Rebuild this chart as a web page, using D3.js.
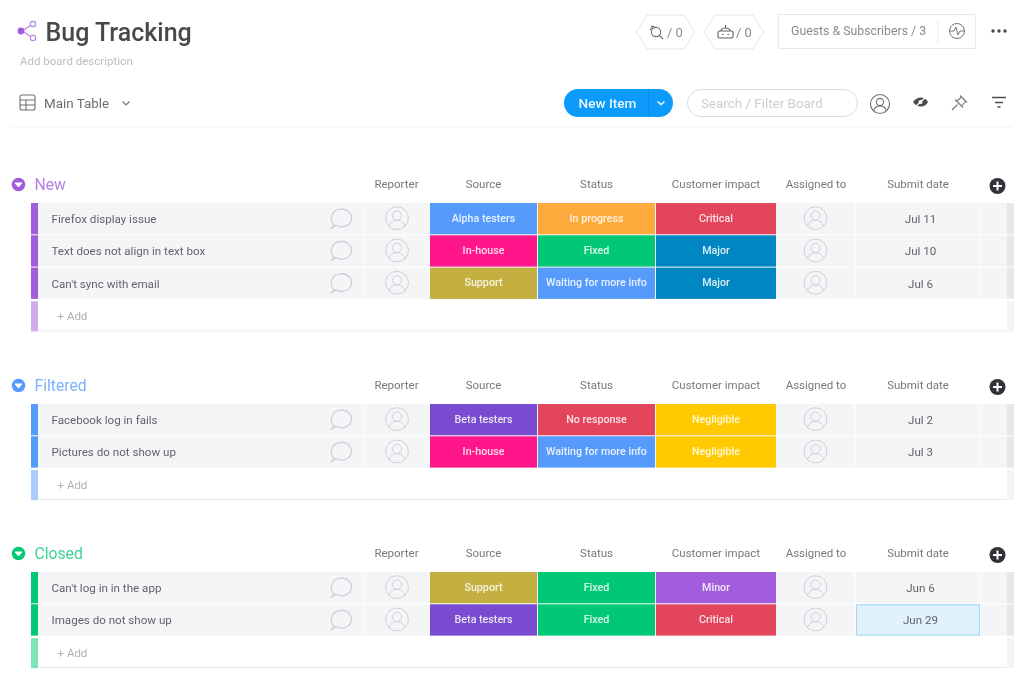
<!DOCTYPE html>
<html>
<head>
<meta charset="utf-8">
<title>Bug Tracking</title>
<script src="https://cdn.jsdelivr.net/npm/d3@7"></script>
<style>
  html, body { margin: 0; padding: 0; background: #fff; overflow: hidden; }
  svg { display: block; }
  text { font-family: Roboto, "Open Sans", sans-serif; }
</style>
</head>
<body>
<div class="viz"></div>
<script>
/* board data */
var columns = ['Reporter', 'Source', 'Status', 'Customer impact', 'Assigned to', 'Submit date'];

var groupNames = ['New', 'Filtered', 'Closed'];

var newItems = ['Firefox display issue', 'Text does not align in text box', "Can't sync with email"];
var newSource = ['Alpha testers', 'In-house', 'Support'];
var newStatus = ['In progress', 'Fixed', 'Waiting for more info'];
var newImpact = ['Critical', 'Major', 'Major'];
var newDates = ['Jul 11', 'Jul 10', 'Jul 6'];

var filteredItems = ['Facebook log in fails', 'Pictures do not show up'];
var filteredSource = ['Beta testers', 'In-house'];
var filteredStatus = ['No response', 'Waiting for more info'];
var filteredImpact = ['Negligible', 'Negligible'];
var filteredDates = ['Jul 2', 'Jul 3'];

var closedItems = ["Can't log in in the app", 'Images do not show up'];
var closedSource = ['Support', 'Beta testers'];
var closedStatus = ['Fixed', 'Fixed'];
var closedImpact = ['Minor', 'Critical'];
var closedDates = ['Jun 6', 'Jun 29'];

var labelNames = ['Alpha testers', 'In-house', 'Support', 'Beta testers', 'In progress', 'Fixed',
  'Waiting for more info', 'No response', 'Critical', 'Major', 'Negligible', 'Minor'];
var labelColors = ['#579bfc', '#ff158a', '#c4b03f', '#784bd1', '#fdab3d', '#00c875',
  '#579bfc', '#e2445c', '#e2445c', '#0086c0', '#ffcb00', '#a25ddc'];

var groups = [
  {name: 'New', items: newItems, source: newSource, status: newStatus, impact: newImpact, dates: newDates},
  {name: 'Filtered', items: filteredItems, source: filteredSource, status: filteredStatus, impact: filteredImpact, dates: filteredDates},
  {name: 'Closed', items: closedItems, source: closedSource, status: closedStatus, impact: closedImpact, dates: closedDates}
];

var width = 1024, height = 688;

var svg = d3.select('.viz').append('svg')
  .attr('width', width)
  .attr('height', height);

var defs = svg.append('defs');
defs.append('filter').attr('id', 'soft')
  .attr('x', '-5%').attr('y', '-5%').attr('width', '110%').attr('height', '110%')
  .append('feGaussianBlur').attr('stdDeviation', 0.45);

var root = svg.append('g').attr('filter', 'url(#soft)');

/* scales */
var groupColor = d3.scaleOrdinal().domain(groupNames).range(['#a25ddc', '#579bfc', '#00c875']);
var groupTop = d3.scaleOrdinal().domain(groupNames).range([203, 404, 572]);
var labelColor = d3.scaleOrdinal().domain(labelNames.map(function(d, i){ return i; })).range(labelColors);

var colLeft = d3.scaleOrdinal().domain(columns).range([365, 430, 538, 656, 778, 856]);
var colRight = d3.scaleOrdinal().domain(columns).range([428, 537, 655, 776, 854, 980]);
var rowHeight = 32.3;

function colorFor(name, field) {
  var start = field === 'source' ? 0 : field === 'status' ? 4 : 8;
  return labelColor(labelNames.indexOf(name, start));
}
function colMid(c) { return (colLeft(c) + colRight(c)) / 2; }

/* icons */
function personIcon(g, x, y) {
  var p = g.append('g').attr('transform', 'translate(' + x + ',' + y + ')')
    .attr('fill', 'none').attr('stroke', '#cfd1d6').attr('stroke-width', 1);
  p.append('circle').attr('r', 11.4);
  p.append('circle').attr('cy', -2.5).attr('r', 4.6);
  p.append('path').attr('d', 'M-8,8.2 C-6.5,3 -3,2.2 0,2.2 C3,2.2 6.5,3 8,8.2');
}

function commentIcon(g, x, y) {
  g.append('path')
    .attr('transform', 'translate(' + x + ',' + y + ') scale(1,1.15)')
    .attr('fill', 'none').attr('stroke', '#cbced3').attr('stroke-width', 1.1)
    .attr('d', 'M-7,6.5 C-10.5,3.5 -10.5,-1 -8,-4 C-5,-8 4,-8.6 8,-5 C12,-1.5 11,4 7,6.3 C3,8.4 -2,8.2 -5,6.6 L-10.5,9.6 C-9,8.6 -7.8,7.6 -7,6.5 Z');
}

function hexagon(g, x0, x1, y0, y1) {
  var m = (y0 + y1) / 2;
  g.append('path')
    .attr('d', d3.line()([[x0, m], [x0 + 11, y0], [x1 - 11, y0], [x1, m], [x1 - 11, y1], [x0 + 11, y1]]) + 'Z')
    .attr('fill', '#fff').attr('stroke', '#e4e5e8');
}

function label(g, x, y, str, size, color, anchor, weight) {
  return g.append('text')
    .attr('x', x).attr('y', y)
    .attr('dy', '0.35em')
    .attr('font-size', size)
    .attr('fill', color)
    .attr('text-anchor', anchor || 'start')
    .attr('font-weight', weight || 400)
    .text(str);
}

/* header */
var header = root.append('g');

var share = header.append('g').attr('fill', 'none').attr('stroke', '#b78ae6').attr('stroke-width', 1.2);
share.append('path').attr('d', 'M33,24 L22,31 L33,38');
share.append('circle').attr('cx', 33).attr('cy', 24).attr('r', 2.7).attr('fill', '#fff');
share.append('circle').attr('cx', 33).attr('cy', 38).attr('r', 2.7).attr('fill', '#fff');
share.append('circle').attr('cx', 21).attr('cy', 31).attr('r', 2.8).attr('fill', '#a25ddc').attr('stroke', '#a25ddc');

label(header, 45.5, 32, 'Bug Tracking', 25, '#4a4a4d', 'start', 500);
label(header, 20, 61, 'Add board description', 11.5, '#bdbdc0');

var tableIcon = header.append('g').attr('fill', 'none').attr('stroke', '#6e6f73').attr('stroke-width', 1.1);
tableIcon.append('rect').attr('x', 20).attr('y', 95).attr('width', 15).attr('height', 15).attr('rx', 2);
tableIcon.append('path').attr('d', 'M20,100 H35 M20,105 H35 M26,100 V110');
label(header, 44, 103, 'Main Table', 13.4, '#6b6c70');
header.append('path').attr('d', 'M122.5,101.5 L126,105 L129.5,101.5').attr('fill', 'none').attr('stroke', '#77787c').attr('stroke-width', 1.2);

hexagon(header, 636, 695, 15, 49);
hexagon(header, 704, 764, 15, 49);
var mag = header.append('g').attr('fill', 'none').attr('stroke', '#6e6f73').attr('stroke-width', 1.1);
mag.append('circle').attr('cx', 656).attr('cy', 32).attr('r', 4.6);
mag.append('path').attr('d', 'M659.5,35.5 L663,39 M650,30 L653,26 M651,26 L655,27');
label(header, 667, 32, '/ 0', 13, '#8a8b8f');
var robot = header.append('g').attr('fill', 'none').attr('stroke', '#5e5f63').attr('stroke-width', 1.1);
robot.append('rect').attr('x', 718).attr('y', 31).attr('width', 15).attr('height', 7).attr('rx', 1.5);
robot.append('path').attr('d', 'M721,31 C721,27 730,27 730,31 M725.5,28 V25');
robot.append('path').attr('d', 'M722,34.5 H723.5 M727.5,34.5 H729');
label(header, 736, 32, '/ 0', 13, '#8a8b8f');

header.append('rect').attr('x', 778.5).attr('y', 14.5).attr('width', 197).attr('height', 34)
  .attr('fill', '#fff').attr('stroke', '#e8e9eb');
header.append('path').attr('d', 'M938,19 V45').attr('stroke', '#eceded');
label(header, 791, 31, 'Guests & Subscribers / 3', 12.3, '#8a8b8f');
var pulse = header.append('g').attr('fill', 'none').attr('stroke', '#75767a').attr('stroke-width', 1);
pulse.append('circle').attr('cx', 957).attr('cy', 31).attr('r', 7.5);
pulse.append('path').attr('d', 'M949.5,31 H954 L956,27 L958,35 L960,31 H964.5');
header.selectAll('circle.dot').data(d3.range(3)).enter().append('circle')
  .attr('class', 'dot').attr('cx', function(d){ return 993 + d * 6; }).attr('cy', 31).attr('r', 1.7).attr('fill', '#4a4a4d');

/* new item button */
header.append('rect').attr('x', 564).attr('y', 89).attr('width', 109).attr('height', 28).attr('rx', 14).attr('fill', '#0a9bfb');
header.append('path').attr('d', 'M648.5,89 V117').attr('stroke', '#0b8ce2');
label(header, 607.5, 103, 'New Item', 13.6, '#eaf6ff', 'middle', 500);
header.append('path').attr('d', 'M657.5,101.5 L661,104.5 L664.5,101.5').attr('fill', 'none').attr('stroke', '#eaf6ff').attr('stroke-width', 1.6);

header.append('rect').attr('x', 687.5).attr('y', 89.5).attr('width', 170).attr('height', 27).attr('rx', 13.5)
  .attr('fill', '#fff').attr('stroke', '#dcdde0');
label(header, 701, 103, 'Search / Filter Board', 13.4, '#cdced1');

personIconDark(header, 880, 104);
function personIconDark(g, x, y) {
  var p = g.append('g').attr('transform', 'translate(' + x + ',' + y + ')')
    .attr('fill', 'none').attr('stroke', '#6e6f73').attr('stroke-width', 1.1);
  p.append('circle').attr('r', 9.5);
  p.append('circle').attr('cy', -2).attr('r', 3.6);
  p.append('path').attr('d', 'M-6.3,7 C-5.5,3 -3,2 0,2 C3,2 5.5,3 6.3,7');
}
header.append('path').attr('d', 'M913,102 C917,96 925,96 928,102 C925,108 917,108 913,102 Z').attr('fill', '#4b4c50');
header.append('circle').attr('cx', 920.5).attr('cy', 102).attr('r', 2).attr('fill', '#fff');
header.append('path').attr('d', 'M914,108 L927,96').attr('stroke', '#fff').attr('stroke-width', 1.2);
header.append('path').attr('d', 'M952,110 L957.5,104.5 M955,99.5 L963,107.5 M957,101 L961.5,97 M961.5,106 L965.5,101.5 M960,95.5 L967,102.5')
  .attr('fill', 'none').attr('stroke', '#77787c').attr('stroke-width', 1.1);
header.append('path').attr('d', 'M992,97.5 H1006 M995,102.5 H1003 M997.5,107 H1000.5').attr('stroke', '#4b4c50').attr('stroke-width', 1.6);

header.append('line').attr('x1', 10).attr('x2', 1012).attr('y1', 127).attr('y2', 127).attr('stroke', '#f3f3f4');

/* groups */
groups.forEach(function(grp) {
  var top = groupTop(grp.name);
  var rows = d3.scaleBand().domain(grp.items).range([top, top + grp.items.length * rowHeight]);
  var g = root.append('g').attr('class', 'group');
  var color = groupColor(grp.name);
  var headY = top - 19;
  var addTop = top + grp.items.length * rowHeight + 1.5;

  // collapse bullet + title
  g.append('circle').attr('cx', 18.5).attr('cy', headY + 0.5).attr('r', 6.8).attr('fill', color);
  g.append('path').attr('d', 'M15,' + (headY - 1) + ' H22 L18.5,' + (headY + 3) + ' Z').attr('fill', '#fff').attr('stroke', '#fff').attr('stroke-linejoin', 'round');
  label(g, 34.5, headY + 0.8, grp.name, 15.7, d3.interpolateRgb(color, '#fff')(0.22));

  // column titles
  columns.forEach(function(c) {
    label(g, colMid(c), headY, c, 11.5, '#77787c', 'middle');
  });
  g.append('circle').attr('cx', 997.5).attr('cy', headY + 2).attr('r', 8).attr('fill', '#323338');
  g.append('path').attr('d', 'M993,' + (headY + 2) + ' H1002 M997.5,' + (headY - 2.5) + ' V' + (headY + 6.5))
    .attr('stroke', '#fff').attr('stroke-width', 2);

  // rows
  grp.items.forEach(function(name, i) {
    var y = rows(name), h = rows.bandwidth() - 1, mid = y + h / 2;
    var row = g.append('g');
    row.append('rect').attr('x', 31).attr('y', y).attr('width', 976).attr('height', h).attr('fill', '#f4f5f7');
    row.append('rect').attr('x', 31).attr('y', y).attr('width', 7).attr('height', h).attr('fill', color);
    row.append('rect').attr('x', 1007).attr('y', y).attr('width', 7).attr('height', h).attr('fill', '#e6e7e9');
    [363.5, 854.5, 855.5, 980.5].forEach(function(v) {
      row.append('line').attr('x1', v).attr('x2', v).attr('y1', y).attr('y2', y + h).attr('stroke', '#fbfbfc');
    });
    label(row, 51.5, mid + 0.2, name, 11.6, '#626367');
    commentIcon(row, 341, mid - 1);
    personIcon(row, colMid('Reporter') + 0.5, mid - 0.5);
    personIcon(row, colMid('Assigned to') - 0.5, mid - 0.5);

    [['Source', grp.source[i], 'source'], ['Status', grp.status[i], 'status'], ['Customer impact', grp.impact[i], 'impact']].forEach(function(cell) {
      row.append('rect')
        .attr('x', colLeft(cell[0])).attr('y', y)
        .attr('width', colRight(cell[0]) - colLeft(cell[0])).attr('height', h)
        .attr('fill', colorFor(cell[1], cell[2]));
      label(row, colMid(cell[0]), mid - 0.5, cell[1], 10.7, '#fff', 'middle', 500).attr('fill-opacity', 0.85);
    });

    var isEditing = grp.dates[i] === 'Jun 29';
    if (isEditing) {
      row.append('rect')
        .attr('x', colLeft('Submit date') + 0.5).attr('y', y + 0.5)
        .attr('width', colRight('Submit date') - colLeft('Submit date') - 1).attr('height', h - 1)
        .attr('fill', '#e2f2fd').attr('stroke', '#9fd4f5');
    }
    label(row, 920.5, mid + 0.2, grp.dates[i], 11.6, '#626367', 'middle');
  });

  // add row
  g.append('rect').attr('x', 31).attr('y', addTop).attr('width', 7).attr('height', 30).attr('fill', color).attr('fill-opacity', 0.5);
  g.append('rect').attr('x', 1007).attr('y', addTop).attr('width', 7).attr('height', 30).attr('fill', '#f3f4f5');
  g.append('line').attr('x1', 38).attr('x2', 1007).attr('y1', addTop + 29.5).attr('y2', addTop + 29.5).attr('stroke', '#e9eaec');
  label(g, 57.5, addTop + 14.5, '+ Add', 11.5, '#b0b1b5');
});
</script>
</body>
</html>
